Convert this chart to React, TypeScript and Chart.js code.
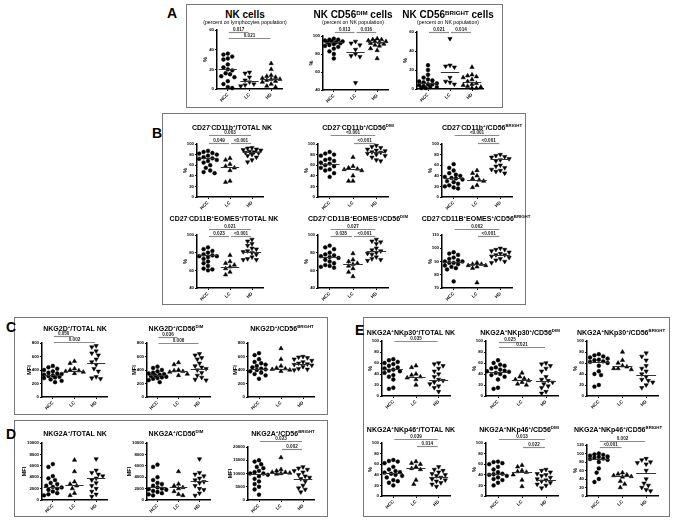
import React, { useEffect, useRef } from "react";
import { Chart, registerables } from "chart.js";
Chart.register(...registerables);

const FONT = '"Liberation Sans", Arial, Helvetica, sans-serif';
const GROUPS = ["HCC", "LC", "HD"];

// ---------- Panel A ----------
const A1_HCC = [36, 35, 33, 31, 30, 25, 22, 20, 19, 16, 15, 13, 12, 8, 5, 2, 1];
const A1_LC = [17, 16, 12, 9, 7, 5, 4, 3];
const A1_HD = [26, 20, 14, 13, 12, 11, 10, 10, 9, 8, 7, 5, 3, 2];
const A1_MED = [20, 8, 10];
const A1_SIG = [["0.017", 1, 2], ["0.021", 1, 3]];

const A2_HCC = [97, 96, 96, 95, 94, 94, 93, 93, 92, 91, 90, 89, 88, 86, 83, 80, 75];
const A2_LC = [94, 92, 90, 85, 80, 78, 77, 48];
const A2_HD = [97, 96, 96, 95, 94, 94, 93, 92, 91, 90, 89, 86, 84, 75];
const A2_MED = [93, 82, 93];
const A2_SIG = [["0.013", 1, 2], ["0.016", 2, 3]];

const A3_HCC = [25, 20, 15, 12, 10, 9, 8, 7, 6, 5, 5, 4, 3, 2, 2, 1, 1];
const A3_LC = [53, 25, 24, 23, 12, 8, 7, 5];
const A3_HD = [23, 15, 14, 13, 12, 10, 8, 6, 5, 4, 3, 2, 1, 1];
const A3_MED = [6, 18, 7];
const A3_SIG = [["0.021", 1, 2], ["0.014", 2, 3]];

// ---------- Panel B ----------
const B1_HCC = [87, 85, 83, 82, 80, 78, 75, 73, 72, 70, 68, 65, 60, 55, 50, 47, 45];
const B1_LC = [73, 70, 62, 58, 55, 50, 30, 28];
const B1_HD = [93, 92, 90, 89, 88, 86, 85, 84, 83, 80, 78, 75, 70, 66];
const B1_MED = [73, 57, 84];
const B1_SIG = [["0.003", 1, 3], ["0.049", 1, 2], ["<0.001", 2, 3]];

const B2_HCC = [85, 82, 80, 78, 72, 70, 68, 65, 63, 60, 58, 55, 52, 50, 45, 38];
const B2_LC = [75, 58, 55, 53, 52, 50, 40, 30, 30];
const B2_HD = [97, 95, 93, 90, 88, 87, 85, 84, 82, 80, 78, 75, 70, 68];
const B2_MED = [63, 52, 84];
const B2_SIG = [["<0.001", 1, 3], ["<0.001", 2, 3]];

const B3_HCC = [62, 55, 50, 45, 42, 40, 38, 36, 35, 33, 30, 28, 25, 22, 20, 18, 16];
const B3_LC = [50, 45, 40, 35, 32, 30, 22, 18];
const B3_HD = [80, 78, 76, 75, 72, 70, 68, 60, 58, 55, 52, 50, 48, 45];
const B3_MED = [36, 32, 71];
const B3_SIG = [["<0.001", 1, 3], ["<0.001", 2, 3]];

const B4_HCC = [86, 84, 82, 80, 78, 77, 76, 76, 75, 73, 70, 68, 65, 62, 61, 60];
const B4_LC = [77, 70, 68, 66, 64, 62, 58, 55];
const B4_HD = [95, 93, 90, 88, 85, 84, 82, 81, 80, 78, 75, 73, 72, 72];
const B4_MED = [77, 64, 81];
const B4_SIG = [["0.021", 1, 3], ["0.023", 1, 2], ["<0.001", 2, 3]];

const B5_HCC = [88, 86, 84, 80, 78, 77, 76, 75, 74, 72, 70, 68, 66, 65, 64, 63];
const B5_LC = [79, 72, 70, 68, 67, 65, 62, 58, 53];
const B5_HD = [95, 93, 92, 90, 85, 83, 82, 80, 79, 78, 75, 73, 72, 71];
const B5_MED = [75, 67, 82];
const B5_SIG = [["0.027", 1, 3], ["0.035", 1, 2], ["<0.001", 2, 3]];

const B6_HCC = [97, 96, 95, 93, 92, 91, 90, 90, 89, 89, 88, 87, 86, 85, 84, 75];
const B6_LC = [89, 88, 88, 87, 87, 86, 85, 74];
const B6_HD = [100, 99, 99, 98, 97, 96, 95, 95, 94, 93, 92, 91, 90, 89];
const B6_MED = [90, 88, 95];
const B6_SIG = [["0.002", 1, 3], ["<0.001", 2, 3]];

// ---------- Panel C ----------
const C1_HCC = [460, 440, 420, 400, 380, 360, 350, 340, 330, 320, 310, 300, 290, 280, 260, 240, 220];
const C1_LC = [530, 500, 420, 400, 390, 380, 370, 350];
const C1_HD = [760, 740, 680, 650, 620, 560, 520, 480, 420, 380, 300, 280, 270];
const C1_MED = [330, 385, 500];
const C1_SIG = [["0.050", 1, 2], ["0.002", 1, 3]];

const C2_HCC = [450, 430, 400, 380, 360, 350, 340, 330, 320, 310, 300, 290, 280, 270, 250, 220];
const C2_LC = [510, 480, 400, 390, 380, 370, 340, 320];
const C2_HD = [640, 620, 580, 560, 500, 460, 440, 420, 400, 360, 320, 290, 260, 250];
const C2_MED = [320, 385, 420];
const C2_SIG = [["0.036", 1, 2], ["0.008", 1, 3]];

const C3_HCC = [650, 620, 560, 520, 500, 480, 460, 440, 420, 410, 400, 380, 360, 340, 320, 270];
const C3_LC = [720, 560, 460, 430, 420, 410, 400, 380];
const C3_HD = [600, 590, 580, 560, 540, 520, 500, 490, 480, 470, 450, 420, 410, 400];
const C3_MED = [420, 420, 490];
const C3_SIG = [];

// ---------- Panel D ----------
const D1_HCC = [6300, 5800, 4200, 3800, 3500, 3000, 2800, 2500, 2300, 2200, 2000, 1800, 1500, 1200, 1000, 800];
const D1_LC = [7000, 5000, 3200, 2800, 2500, 2000, 1200, 800];
const D1_HD = [7200, 5200, 4800, 4500, 4200, 3800, 3500, 3000, 2500, 2000, 1500, 1000, 600];
const D1_MED = [2300, 2700, 3800];
const D1_SIG = [];

const D2_HCC = [6200, 5800, 4000, 3500, 3000, 2800, 2500, 2200, 2000, 1900, 1800, 1600, 1400, 1200, 1000, 800];
const D2_LC = [5000, 2800, 2500, 2200, 2000, 1500, 1000, 800];
const D2_HD = [7200, 4800, 4500, 4200, 3800, 3500, 3200, 3000, 2500, 2000, 1800, 1200, 800];
const D2_MED = [2200, 2200, 3300];
const D2_SIG = [];

const D3_HCC = [15000, 14500, 13500, 12500, 12000, 11000, 10500, 10000, 10000, 9500, 9000, 8000, 7000, 6000, 5000, 4000, 2000];
const D3_LC = [16000, 11500, 11000, 10500, 10500, 10200, 10000, 9800];
const D3_HD = [12500, 12000, 11500, 11000, 10500, 9500, 9000, 8500, 8000, 7000, 5500, 4500, 4000, 3000];
const D3_MED = [10000, 10200, 7800];
const D3_SIG = [["0.023", 1, 3], ["0.002", 2, 3]];

// ---------- Panel E ----------
const E1_HCC = [67, 65, 62, 60, 58, 55, 52, 50, 48, 46, 45, 42, 38, 35, 30, 15, 13];
const E1_LC = [55, 52, 40, 38, 35, 33, 30, 20];
const E1_HD = [60, 58, 55, 50, 45, 40, 35, 30, 28, 25, 22, 18, 15, 8];
const E1_MED = [50, 35, 30];
const E1_SIG = [["0.035", 1, 3]];

const E2_HCC = [65, 60, 57, 55, 52, 50, 48, 46, 45, 44, 42, 40, 38, 35, 30, 15, 13];
const E2_LC = [42, 35, 32, 30, 28, 25, 22, 20];
const E2_HD = [60, 58, 55, 50, 45, 35, 30, 28, 25, 22, 18, 15, 8, 5];
const E2_MED = [44, 29, 28];
const E2_SIG = [["0.025", 1, 2], ["0.021", 1, 3]];

const E3_HCC = [76, 74, 72, 70, 68, 66, 65, 63, 62, 60, 55, 45, 40, 38, 20, 17];
const E3_LC = [80, 65, 60, 55, 53, 50, 50, 48];
const E3_HD = [78, 72, 65, 55, 50, 45, 40, 35, 30, 28, 25, 20, 15];
const E3_MED = [62, 54, 39];
const E3_SIG = [];

const E4_HCC = [68, 66, 65, 62, 55, 50, 47, 45, 44, 42, 40, 38, 35, 30, 28, 25, 20];
const E4_LC = [65, 62, 60, 55, 52, 50, 30, 22];
const E4_HD = [55, 50, 48, 45, 42, 40, 38, 35, 32, 30, 28, 25, 22, 18];
const E4_MED = [43, 52, 36];
const E4_SIG = [["0.039", 1, 3], ["0.014", 2, 3]];

const E5_HCC = [65, 64, 62, 60, 55, 50, 45, 42, 41, 40, 38, 35, 32, 30, 25, 20];
const E5_LC = [58, 55, 48, 46, 45, 40, 30, 18];
const E5_HD = [50, 48, 45, 42, 40, 38, 35, 32, 30, 28, 25, 22, 20, 15];
const E5_MED = [41, 46, 30];
const E5_SIG = [["0.013", 1, 3], ["0.022", 2, 3]];

const E6_HCC = [100, 98, 97, 95, 93, 92, 90, 88, 87, 85, 80, 65, 55, 40, 33];
const E6_LC = [55, 52, 50, 48, 46, 45, 35, 28, 20];
const E6_HD = [88, 85, 80, 78, 75, 60, 40, 30, 25, 20, 15, 12];
const E6_MED = [86, 46, 55];
const E6_SIG = [["0.002", 1, 3], ["<0.001", 1, 2]];

// ---------- layout (positions/styles) ----------
type Spec = {
  title: string; sub?: string; big?: boolean; tx: number; ty: number;
  plot: number[]; y: number[]; yLabel: string; yW: number;
  groups: number[][]; med: number[]; sigs: any[]; sigY: number[]; symA?: boolean;
};

const SPECS: Spec[] = [
  { title: "NK cells", sub: "(percent on lymphocytes population)", big: true, tx: 245, ty: 15, plot: [217, 30, 282, 89], y: [0, 60, 20], yLabel: "%", yW: 16, groups: [A1_HCC, A1_LC, A1_HD], med: A1_MED, sigs: A1_SIG, sigY: [32, 38], symA: true },
  { title: "NK CD56^DIM^ cells", sub: "(percent on NK population)", big: true, tx: 353, ty: 15, plot: [323, 36, 388, 90], y: [40, 100, 20], yLabel: "%", yW: 16, groups: [A2_HCC, A2_LC, A2_HD], med: A2_MED, sigs: A2_SIG, sigY: [32, 32], symA: true },
  { title: "NK CD56^BRIGHT^ cells", sub: "(percent on NK population)", big: true, tx: 448, ty: 15, plot: [417, 32, 483, 89], y: [0, 60, 20], yLabel: "%", yW: 16, groups: [A3_HCC, A3_LC, A3_HD], med: A3_MED, sigs: A3_SIG, sigY: [32, 32], symA: true },

  { title: "CD27^-^CD11b^+^/TOTAL NK", tx: 232, ty: 127, plot: [197, 144, 263, 197], y: [0, 100, 20], yLabel: "%", yW: 16, groups: [B1_HCC, B1_LC, B1_HD], med: B1_MED, sigs: B1_SIG, sigY: [135, 143, 143] },
  { title: "CD27^-^CD11b^+^/CD56^DIM^", tx: 358, ty: 127, plot: [318, 144, 388, 197], y: [0, 100, 20], yLabel: "%", yW: 16, groups: [B2_HCC, B2_LC, B2_HD], med: B2_MED, sigs: B2_SIG, sigY: [135, 143] },
  { title: "CD27^-^CD11b^+^/CD56^BRIGHT^", tx: 482, ty: 127, plot: [442, 144, 512, 197], y: [0, 100, 20], yLabel: "%", yW: 16, groups: [B3_HCC, B3_LC, B3_HD], med: B3_MED, sigs: B3_SIG, sigY: [135, 143] },
  { title: "CD27^-^CD11B^+^EOMES^+^/TOTAL NK", tx: 224, ty: 218, plot: [197, 235, 263, 288], y: [40, 100, 20], yLabel: "%", yW: 16, groups: [B4_HCC, B4_LC, B4_HD], med: B4_MED, sigs: B4_SIG, sigY: [229, 236, 236] },
  { title: "CD27^-^CD11B^+^EOMES^+^/CD56^DIM^", tx: 358, ty: 218, plot: [318, 235, 388, 288], y: [40, 100, 20], yLabel: "%", yW: 16, groups: [B5_HCC, B5_LC, B5_HD], med: B5_MED, sigs: B5_SIG, sigY: [229, 236, 236] },
  { title: "CD27^-^CD11B^+^EOMES^+^/CD56^BRIGHT^", tx: 476, ty: 218, plot: [442, 235, 512, 288], y: [70, 110, 10], yLabel: "%", yW: 16, groups: [B6_HCC, B6_LC, B6_HD], med: B6_MED, sigs: B6_SIG, sigY: [229, 236] },

  { title: "NKG2D^+^/TOTAL NK", tx: 75, ty: 328, plot: [42, 343, 107, 397], y: [0, 800, 200], yLabel: "MFI", yW: 17, groups: [C1_HCC, C1_LC, C1_HD], med: C1_MED, sigs: C1_SIG, sigY: [336, 342] },
  { title: "NKG2D^+^/CD56^DIM^", tx: 176, ty: 328, plot: [147, 343, 210, 397], y: [0, 800, 200], yLabel: "MFI", yW: 17, groups: [C2_HCC, C2_LC, C2_HD], med: C2_MED, sigs: C2_SIG, sigY: [337, 343] },
  { title: "NKG2D^+^/CD56^BRIGHT^", tx: 282, ty: 328, plot: [248, 343, 314, 397], y: [0, 800, 200], yLabel: "MFI", yW: 17, groups: [C3_HCC, C3_LC, C3_HD], med: C3_MED, sigs: C3_SIG, sigY: [] },

  { title: "NKG2A^+^/TOTAL NK", tx: 75, ty: 433, plot: [42, 443, 107, 500], y: [0, 10000, 2000], yLabel: "MFI", yW: 22, groups: [D1_HCC, D1_LC, D1_HD], med: D1_MED, sigs: D1_SIG, sigY: [] },
  { title: "NKG2A^+^/CD56^DIM^", tx: 176, ty: 433, plot: [147, 443, 210, 500], y: [0, 10000, 2000], yLabel: "MFI", yW: 22, groups: [D2_HCC, D2_LC, D2_HD], med: D2_MED, sigs: D2_SIG, sigY: [] },
  { title: "NKG2A^+^/CD56^BRIGHT^", tx: 283, ty: 433, plot: [248, 447, 314, 500], y: [0, 20000, 5000], yLabel: "MFI", yW: 22, groups: [D3_HCC, D3_LC, D3_HD], med: D3_MED, sigs: D3_SIG, sigY: [441, 449] },

  { title: "NKG2A^+^NKp30^+^/TOTAL NK", tx: 411, ty: 332, plot: [382, 341, 450, 396], y: [0, 100, 20], yLabel: "%", yW: 16, groups: [E1_HCC, E1_LC, E1_HD], med: E1_MED, sigs: E1_SIG, sigY: [341] },
  { title: "NKG2A^+^NKp30^+^/CD56^DIM^", tx: 520, ty: 332, plot: [486, 341, 558, 396], y: [0, 100, 20], yLabel: "%", yW: 16, groups: [E2_HCC, E2_LC, E2_HD], med: E2_MED, sigs: E2_SIG, sigY: [342, 347] },
  { title: "NKG2A^+^NKp30^+^/CD56^BRIGHT^", tx: 621, ty: 332, plot: [587, 341, 658, 396], y: [0, 100, 20], yLabel: "%", yW: 16, groups: [E3_HCC, E3_LC, E3_HD], med: E3_MED, sigs: E3_SIG, sigY: [] },
  { title: "NKG2A^+^NKp46^+^/TOTAL NK", tx: 411, ty: 429, plot: [382, 443, 450, 496], y: [0, 100, 20], yLabel: "%", yW: 16, groups: [E4_HCC, E4_LC, E4_HD], med: E4_MED, sigs: E4_SIG, sigY: [439, 446] },
  { title: "NKG2A^+^NKp46^+^/CD56^DIM^", tx: 519, ty: 429, plot: [486, 443, 558, 496], y: [0, 100, 20], yLabel: "%", yW: 16, groups: [E5_HCC, E5_LC, E5_HD], med: E5_MED, sigs: E5_SIG, sigY: [439, 447] },
  { title: "NKG2A^+^NKp46^+^/CD56^BRIGHT^", tx: 618, ty: 429, plot: [587, 445, 658, 496], y: [0, 120, 20], yLabel: "%", yW: 16, groups: [E6_HCC, E6_LC, E6_HD], med: E6_MED, sigs: E6_SIG, sigY: [441, 447] },
];

const BOXES = [
  { l: 186, t: 4, r: 503, b: 108 },
  { l: 162, t: 113, r: 526, b: 305 },
  { l: 14, t: 317, r: 328, b: 415 },
  { l: 14, t: 420, r: 328, b: 517 },
  { l: 363, t: 317, r: 670, b: 517 },
];
const LETTERS = [
  { s: "A", x: 167, y: 13 },
  { s: "B", x: 152, y: 133 },
  { s: "C", x: 6, y: 327 },
  { s: "D", x: 6, y: 434 },
  { s: "E", x: 355, y: 330 },
];

function swarm(vals: number[], cat: number, pxX: number, pxY: number, d: number) {
  const order = vals.map((_, i) => i).sort((a, b) => vals[b] - vals[a]);
  const placed: number[][] = [];
  const xs = new Array(vals.length).fill(cat);
  const maxOff = 0.46 * pxX;
  const step = d * 0.5;
  const cands = [0];
  for (let k = 1; k * step <= maxOff; k++) { cands.push(-k * step); cands.push(k * step); }
  for (const i of order) {
    const py = vals[i] * pxY;
    let best = 0, bestD = -1;
    for (const c of cands) {
      let m = Infinity;
      for (const p of placed) m = Math.min(m, Math.hypot(p[0] - c, p[1] - py));
      if (m >= d) { best = c; bestD = Infinity; break; }
      if (m > bestD) { bestD = m; best = c; }
    }
    placed.push([best, py]);
    xs[i] = cat + best / pxX;
  }
  return xs;
}

function Rich({ text }: { text: string }) {
  const parts = text.split("^");
  return (
    <>
      {parts.map((p, i) =>
        i % 2 ? (
          <span key={i} style={{ fontSize: "0.62em", verticalAlign: "0.5em", lineHeight: 0 }}>{p}</span>
        ) : (
          <span key={i}>{p}</span>
        )
      )}
    </>
  );
}

function Dot({ s }: { s: Spec }) {
  const ref = useRef<HTMLCanvasElement>(null);
  const [l, t, r, b] = s.plot;
  const xH = 15;
  const padR = 5;
  const topMost = Math.min(t, ...s.sigY) - 9;
  const padTop = t - topMost;
  const W = s.yW + (r - l) + padR;
  const H = padTop + (b - t) + xH;
  const cl = l - s.yW;
  const ct = topMost;

  useEffect(() => {
    const [ymin, ymax, ystep] = s.y;
    const xmin = 0.5, xmax = 3.5;
    const pxX = (r - l) / (xmax - xmin);
    const pxY = (b - t) / (ymax - ymin);
    const datasets = s.groups.map((vals, gi) => {
      const xs = swarm(vals, gi + 1, pxX, pxY, 4.4);
      let rot = 0;
      if (gi === 1) rot = s.symA ? 180 : 0;
      if (gi === 2) rot = s.symA ? 0 : 180;
      return {
        data: vals.map((v, i) => ({ x: xs[i], y: v })),
        pointStyle: gi === 0 ? "circle" : "triangle",
        rotation: rot,
        pointRadius: gi === 0 ? 1.9 : 2.5,
        backgroundColor: "#000",
        borderColor: "#000",
        borderWidth: 0.5,
        clip: false,
      };
    });
    const overlay = {
      id: "overlay",
      afterDatasetsDraw(chart: any) {
        const { ctx, scales } = chart;
        const x = scales.x, y = scales.y;
        ctx.save();
        ctx.strokeStyle = "#333";
        ctx.lineWidth = 1;
        s.med.forEach((m, gi) => {
          const py = Math.round(y.getPixelForValue(m)) + 0.5;
          ctx.beginPath();
          ctx.moveTo(x.getPixelForValue(gi + 1 - 0.42), py);
          ctx.lineTo(x.getPixelForValue(gi + 1 + 0.42), py);
          ctx.stroke();
        });
        s.sigs.forEach((sg: any, k: number) => {
          const [lab, g1, g2] = sg;
          const py = s.sigY[k] - ct + 0.5;
          const x1 = x.getPixelForValue(g1) + 1;
          const x2 = x.getPixelForValue(g2) - 1;
          ctx.strokeStyle = "#8a8a8a";
          ctx.lineWidth = 1.2;
          ctx.beginPath();
          ctx.moveTo(x1, py);
          ctx.lineTo(x2, py);
          ctx.stroke();
          ctx.fillStyle = "#222";
          ctx.font = `bold 4.6px ${FONT}`;
          ctx.textAlign = "center";
          ctx.textBaseline = "bottom";
          ctx.fillText(lab, (x1 + x2) / 2, py - 0.8);
        });
        ctx.restore();
      },
    };
    const chart = new Chart(ref.current as HTMLCanvasElement, {
      type: "scatter",
      data: { datasets: datasets as any },
      plugins: [overlay],
      options: {
        responsive: false,
        animation: false,
        devicePixelRatio: 1,
        layout: { padding: { top: padTop, right: padR, left: 0, bottom: 0 } },
        plugins: { legend: { display: false }, tooltip: { enabled: false }, title: { display: false } },
        scales: {
          x: {
            type: "linear",
            min: xmin,
            max: xmax,
            afterBuildTicks: (sc: any) => { sc.ticks = [1, 2, 3].map((v) => ({ value: v })); },
            afterFit: (sc: any) => { sc.height = xH; },
            grid: { display: true, drawOnChartArea: false, drawTicks: true, tickLength: 2, color: "#000", lineWidth: 1 },
            border: { display: true, color: "#000", width: 1.5 },
            ticks: {
              autoSkip: false,
              minRotation: 45,
              maxRotation: 45,
              padding: 1,
              color: "#000",
              font: { size: 4.6, weight: "bold", family: FONT },
              callback: (v: any) => GROUPS[Math.round(v) - 1] ?? "",
            },
          },
          y: {
            min: ymin,
            max: ymax,
            afterBuildTicks: (sc: any) => {
              const tk: any[] = [];
              for (let v = ymin; v <= ymax + 1e-9; v += ystep) tk.push({ value: v });
              sc.ticks = tk;
            },
            afterFit: (sc: any) => { sc.width = s.yW; },
            grid: { display: true, drawOnChartArea: false, drawTicks: true, tickLength: 2, color: "#000", lineWidth: 1 },
            border: { display: true, color: "#000", width: 1.5 },
            ticks: {
              padding: 1,
              color: "#000",
              font: { size: 4.3, weight: "bold", family: FONT },
              callback: (v: any) => String(v),
            },
            title: {
              display: true,
              text: s.yLabel,
              color: "#000",
              font: { size: 5.5, weight: "bold", family: FONT },
              padding: { top: 1, bottom: 0 },
            },
          },
        },
      } as any,
    });
    return () => chart.destroy();
  }, []);

  return (
    <>
      <canvas
        ref={ref}
        width={W}
        height={H}
        style={{ position: "absolute", left: cl, top: ct, width: W, height: H }}
      />
      <div
        style={{
          position: "absolute",
          left: s.tx,
          top: s.ty,
          transform: "translate(-50%, -50%)",
          whiteSpace: "nowrap",
          fontFamily: FONT,
          fontWeight: "bold",
          fontSize: s.big ? 10 : 7,
          lineHeight: 1,
          color: "#000",
        }}
      >
        <Rich text={s.title} />
      </div>
      {s.sub ? (
        <div
          style={{
            position: "absolute",
            left: s.tx,
            top: s.ty + 8,
            transform: "translate(-50%, -50%)",
            whiteSpace: "nowrap",
            fontFamily: FONT,
            fontSize: 5.2,
            lineHeight: 1,
            color: "#000",
          }}
        >
          {s.sub}
        </div>
      ) : null}
    </>
  );
}

export default function App() {
  return (
    <div style={{ position: "absolute", left: 0, top: 0, width: 677, height: 521, background: "#fff", overflow: "hidden" }}>
      {BOXES.map((bx, i) => (
        <div
          key={"b" + i}
          style={{
            position: "absolute",
            left: bx.l,
            top: bx.t,
            width: bx.r - bx.l,
            height: bx.b - bx.t,
            border: "1.5px solid #777",
            boxSizing: "border-box",
          }}
        />
      ))}
      {LETTERS.map((lt) => (
        <div
          key={lt.s}
          style={{
            position: "absolute",
            left: lt.x,
            top: lt.y,
            transform: "translateY(-50%)",
            fontFamily: FONT,
            fontWeight: "bold",
            fontSize: 14,
            lineHeight: 1,
            color: "#000",
          }}
        >
          {lt.s}
        </div>
      ))}
      {SPECS.map((s, i) => (
        <Dot key={i} s={s} />
      ))}
    </div>
  );
}
